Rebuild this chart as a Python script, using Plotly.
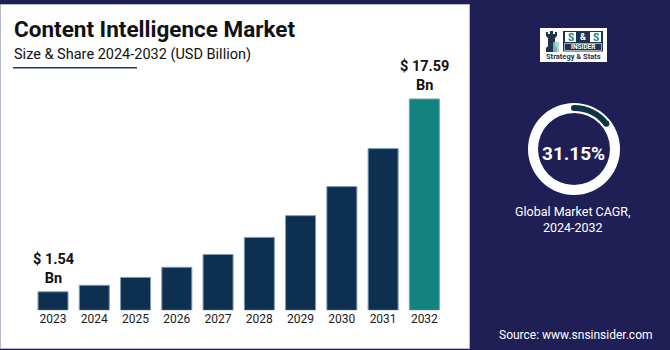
import math
import plotly.graph_objects as go

# ---- data ----
years = ["2023", "2024", "2025", "2026", "2027", "2028", "2029", "2030", "2031", "2032"]
market_size = [1.54, 2.08, 2.74, 3.58, 4.64, 6.07, 7.88, 10.30, 13.46, 17.59]
labelled_years = ["2023", "2032"]
cagr_text = "31.15%"
arc_fraction = 0.145

W, H = 670, 350
NAVY_BG = "#1f1f56"
BAR = "#0e3050"
TEAL = "#13837f"
LOGO_NAVY = "#1f3350"
FONT = "Roboto"


def fx(x):
    return x / W


def fy(y):
    return 1 - y / H


bar_colors = [TEAL if y == "2032" else BAR for y in years]

fig = go.Figure()
fig.add_trace(go.Bar(
    x=years, y=market_size,
    marker=dict(color=bar_colors, line=dict(color="#7f9bb3", width=1)),
    width=0.727, hoverinfo="x+y", showlegend=False,
))

# donut ring
cx, cy, r_out, r_in = 574, 149, 46, 36
fig.add_trace(go.Pie(
    values=[1], marker=dict(colors=["white"], line=dict(width=0)),
    hole=r_in / r_out, textinfo="none", sort=False, showlegend=False, hoverinfo="skip",
    domain=dict(x=[fx(cx - r_out), fx(cx + r_out)], y=[fy(cy + r_out), fy(cy - r_out)]),
))
ra_out, ra_in = 44, 38
fig.add_trace(go.Pie(
    values=[arc_fraction, 1 - arc_fraction],
    marker=dict(colors=["#0c3449", "rgba(0,0,0,0)"], line=dict(width=0)),
    hole=ra_in / ra_out, textinfo="none", sort=False, direction="clockwise", rotation=0,
    showlegend=False, hoverinfo="skip",
    domain=dict(x=[fx(cx - ra_out), fx(cx + ra_out)], y=[fy(cy + ra_out), fy(cy - ra_out)]),
))

shapes = []
# white panel
shapes.append(dict(type="rect", xref="paper", yref="paper", x0=fx(0.5), x1=fx(469.5), y0=fy(348.5), y1=fy(4.5),
                   fillcolor="white", line=dict(color="#b8b8c8", width=1), layer="below"))
# underline
shapes.append(dict(type="line", xref="paper", yref="paper", x0=fx(13), x1=fx(137), y0=fy(67.7), y1=fy(67.7),
                   line=dict(color="#1e3a5f", width=1.5)))
# round caps of arc
rm = (ra_out + ra_in) / 2
for ang in [0, arc_fraction * 360]:
    px = cx + rm * math.sin(math.radians(ang))
    py = cy - rm * math.cos(math.radians(ang))
    shapes.append(dict(type="circle", xref="paper", yref="paper", x0=fx(px - 3), x1=fx(px + 3),
                       y0=fy(py + 3), y1=fy(py - 3), fillcolor="#0c3449", line=dict(width=0)))
# logo box
shapes.append(dict(type="rect", xref="paper", yref="paper", x0=fx(540), x1=fx(607), y0=fy(62), y1=fy(28),
                   fillcolor="white", line=dict(width=0)))
shapes.append(dict(type="rect", xref="paper", yref="paper", x0=fx(563), x1=fx(603), y0=fy(51.5), y1=fy(31),
                   fillcolor=LOGO_NAVY, line=dict(width=0)))
for x0 in [565, 590]:
    shapes.append(dict(type="rect", xref="paper", yref="paper", x0=fx(x0), x1=fx(x0 + 11), y0=fy(42), y1=fy(32),
                       fillcolor="white", line=dict(width=0)))
shapes.append(dict(type="rect", xref="paper", yref="paper", x0=fx(564.5), x1=fx(601.5), y0=fy(50.5), y1=fy(43.5),
                   fillcolor=LOGO_NAVY, line=dict(color="white", width=0.6)))
# tower icon
shapes.append(dict(type="path", xref="paper", yref="paper",
                   path=(f"M {fx(546)} {fy(52)} L {fx(546)} {fy(48)} L {fx(548)} {fy(46)} L {fx(548)} {fy(38)} "
                         f"L {fx(546)} {fy(36)} L {fx(546)} {fy(32)} L {fx(548)} {fy(32)} L {fx(548)} {fy(34)} "
                         f"L {fx(550)} {fy(34)} L {fx(550)} {fy(31)} L {fx(553)} {fy(31)} L {fx(553)} {fy(34)} "
                         f"L {fx(555)} {fy(34)} L {fx(555)} {fy(32)} L {fx(557)} {fy(32)} L {fx(557)} {fy(36)} "
                         f"L {fx(555)} {fy(38)} L {fx(555)} {fy(46)} L {fx(557)} {fy(48)} L {fx(557)} {fy(52)} Z"),
                   fillcolor=LOGO_NAVY, line=dict(width=0)))
shapes.append(dict(type="rect", xref="paper", yref="paper", x0=fx(553), x1=fx(559), y0=fy(52), y1=fy(42),
                   fillcolor="#8fd0cb", line=dict(width=0), opacity=0.8))


def note(text, x, y, size, color, xanchor="center"):
    return dict(text=text, x=fx(x), y=fy(y), xref="paper", yref="paper", xanchor=xanchor,
                yanchor="middle", showarrow=False, font=dict(family=FONT, size=size, color=color))


annotations = [
    note("<b>Content Intelligence Market</b>", 12, 29, 22.5, "#111111", "left"),
    note("Size & Share 2024-2032 (USD Billion)", 12, 54.5, 14.5, "#111111", "left"),
    note(f"<b>{cagr_text}</b>", 573, 153, 19, "white"),
    note("Global Market CAGR,<br>2024-2032", 573, 219.5, 12.5, "white"),
    note("Source: www.snsinsider.com", 575.5, 334.5, 12, "white"),
    # logo texts
    note("<b>S</b>", 570.5, 37.5, 10, TEAL),
    note("<b>&</b>", 583, 37.5, 9, "white"),
    note("<b>S</b>", 595.5, 37.5, 10, TEAL),
    note("<b>INSIDER</b>", 583, 47.3, 6.5, "white"),
    note("<b>Strategy & Stats</b>", 573.5, 56.5, 7.5, LOGO_NAVY),
]
for i, (yr, v) in enumerate(zip(years, market_size)):
    if yr in labelled_years:
        annotations.append(dict(text=f"<b>$ {v:.2f}<br>Bn</b>", x=i, y=v, xref="x", yref="y",
                                xanchor="center", yanchor="middle", yshift=22.5, showarrow=False,
                                font=dict(family=FONT, size=14.5, color="#111111")))

fig.update_layout(
    width=W, height=H, margin=dict(l=0, r=0, t=0, b=0),
    paper_bgcolor=NAVY_BG, plot_bgcolor="rgba(0,0,0,0)",
    bargap=0.273, shapes=shapes, annotations=annotations,
    xaxis=dict(domain=[fx(32.4), fx(445)], range=[-0.5, 9.5], type="category", showgrid=False,
               showline=False, zeroline=False, ticks="", ticklen=0,
               tickfont=dict(family=FONT, size=12, color="#1a1a1a")),
    yaxis=dict(domain=[fy(310.3), fy(60)], range=[0, 250.3 / 12.013], visible=False),
)

fig.write_html("out.html")
